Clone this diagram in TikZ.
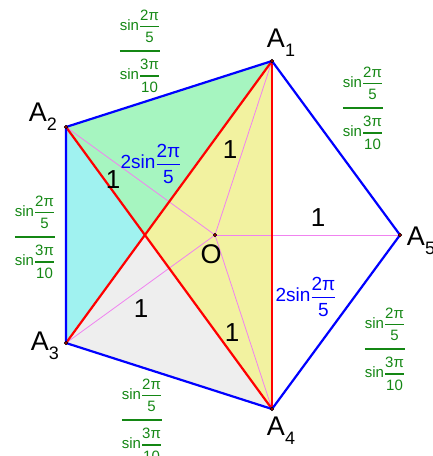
\documentclass[tikz,border=0pt]{standalone}
\usepackage{amsmath}
\usepackage{fontspec}
\setmainfont{Liberation Sans}
\definecolor{gtxt}{RGB}{20,135,20}
\definecolor{fgreen}{RGB}{166,245,192}
\definecolor{fcyan}{RGB}{160,242,240}
\definecolor{fyellow}{RGB}{242,242,160}
\definecolor{fgray}{RGB}{238,238,238}
\definecolor{pinkl}{RGB}{240,130,240}
\newcommand{\sinfr}[3]{\text{sin}\genfrac{}{}{#3}{0}{\text{#1}}{\text{#2}}}
\newcommand{\gfr}{\fontsize{15}{15}\selectfont$\genfrac{}{}{2.4pt}{0}{\sinfr{2π}{5}{1.6pt}}{\sinfr{3π}{10}{1.6pt}}$}
\newcommand{\bfr}{\fontsize{19}{19}\selectfont$\text{2sin}\genfrac{}{}{1.8pt}{0}{\text{2π}}{\text{5}}$}
\newcommand{\vlab}[1]{\fontsize{27}{27}\selectfont A\raisebox{-9pt}{\fontsize{18}{18}\selectfont #1}}
\tikzset{
  side/.style={draw=blue, line width=2.2pt, line join=round},
  diag/.style={draw=red, line width=2.2pt},
  radius/.style={draw=pinkl, line width=0.8pt},
  vpt/.style={circle, draw=black, fill=red!70!black, inner sep=0pt, minimum size=3.6pt, line width=0.5pt},
  one/.style={font=\fontsize{26}{26}\selectfont},
  glab/.style={text=gtxt, inner sep=0pt},
  blab/.style={text=blue, inner sep=0pt},
}
\begin{document}
\begin{tikzpicture}[x=1pt,y=-1pt]
\useasboundingbox (0,0) rectangle (433,456);
\coordinate (A1) at (272,61);
\coordinate (A2) at (66,127);
\coordinate (A3) at (66,343);
\coordinate (A4) at (272,409);
\coordinate (A5) at (400,235);
\coordinate (O) at (215,235);
\coordinate (P) at (145,235);
% fills
\fill[fgreen] (A1) -- (A2) -- (P) -- cycle;
\fill[fcyan] (A2) -- (A3) -- (P) -- cycle;
\fill[fgray] (A3) -- (A4) -- (P) -- cycle;
\fill[fyellow] (A1) -- (P) -- (A4) -- cycle;
% radii
\foreach \v in {A1,A2,A3,A4,A5} \draw[radius] (O) -- (\v);
% diagonals
\draw[diag] (A1) -- (A3);
\draw[diag] (A2) -- (A4);
\draw[diag] (A1) -- (A4);
% sides
\draw[side] (A1) -- (A2) -- (A3) -- (A4) -- (A5) -- cycle;
% points
\foreach \v in {A1,A2,A3,A4,A5,O} \node[vpt] (p\v) at (\v) {};
% vertex labels
\node (lA1) at (281,43) {\vlab{1}};
\node (lA2) at (43,117) {\vlab{2}};
\node (lA3) at (45,346) {\vlab{3}};
\node (lA4) at (281,431) {\vlab{4}};
\node (lA5) at (421,241) {\vlab{5}};
\node[font=\fontsize{27}{27}\selectfont] (lO) at (211,254) {O};
% radius labels
\node[one] (r1) at (113,180) {1};
\node[one] (r2) at (230,150) {1};
\node[one] (r3) at (318,218) {1};
\node[one] (r4) at (141,309) {1};
\node[one] (r5) at (232,333) {1};
% diagonal labels
\node[blab] (d1) at (151,164) {\bfr};
\node[blab] (d2) at (306,297) {\bfr};
% side labels
\node[glab] (s1) at (140,51) {\gfr};
\node[glab] (s2) at (363,108) {\gfr};
\node[glab] (s3) at (35,237) {\gfr};
\node[glab] (s4) at (385,349) {\gfr};
\node[glab] (s5) at (142,420) {\gfr};
\end{tikzpicture}
\end{document}
